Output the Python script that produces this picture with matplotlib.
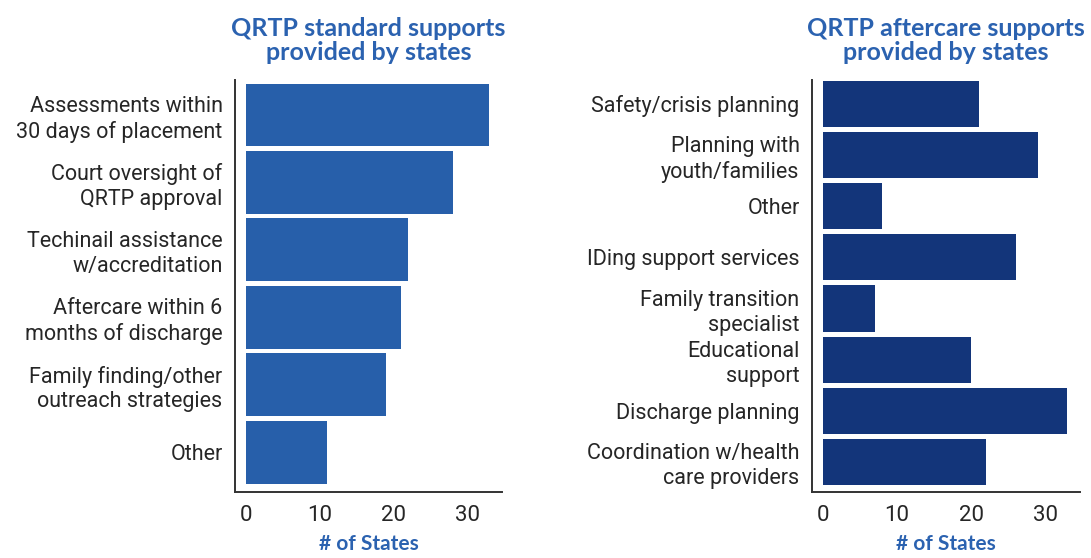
import matplotlib
matplotlib.use("Agg")
import matplotlib.pyplot as plt

left_title = "QRTP standard supports\nprovided by states"
left_labels = ["Assessments within\n30 days of placement", "Court oversight of\nQRTP approval",
               "Techinail assistance\nw/accreditation", "Aftercare within 6\nmonths of discharge",
               "Family finding/other\noutreach strategies", "Other"]
left_values = [33, 28, 22, 21, 19, 11]

right_title = "QRTP aftercare supports\nprovided by states"
right_labels = ["Safety/crisis planning", "Planning with\nyouth/families", "Other",
                "IDing support services", "Family transition\nspecialist", "Educational\nsupport",
                "Discharge planning", "Coordination w/health\ncare providers"]
right_values = [21, 29, 8, 26, 7, 20, 33, 22]

xticks = [0, 10, 20, 30]
xlabel = "# of States"

label_font = ['Roboto', 'DejaVu Sans']
title_font = ['Lato', 'DejaVu Sans']
title_color = "#2B62B0"

fig = plt.figure(figsize=(10.91, 5.58), dpi=100)

def draw(rect, labels, values, color, title, height, ylim):
    ax = fig.add_axes(rect)
    ys = list(range(len(labels)))
    ax.barh(ys, values, height=height, color=color)
    ax.set_yticks(ys)
    ax.set_yticklabels(labels, fontsize=15.5, family=label_font, fontweight='normal',
                       color="#262626", linespacing=1.22)
    ax.set_xticks(xticks)
    ax.set_xticklabels([str(t) for t in xticks], fontsize=16, family=label_font,
                       fontweight='normal', color="#262626")
    ax.set_xlim(-1.5, 34.7)
    ax.set_ylim(*ylim)
    ax.tick_params(length=0, axis='y', pad=9)
    ax.tick_params(length=0, axis='x', pad=9)
    for s in ["top", "right"]:
        ax.spines[s].set_visible(False)
    for s in ["left", "bottom"]:
        ax.spines[s].set_color("#333333")
        ax.spines[s].set_linewidth(1.4)
    ax.set_xlabel(xlabel, fontsize=15, family=title_font, fontweight='bold', color=title_color,
                  labelpad=6)
    ax.set_title(title, fontsize=18, family=title_font, fontweight='bold', color=title_color,
                 pad=14, linespacing=1.05)
    return ax

draw([0.2154, 0.118, 0.2447, 0.739], left_labels, left_values, "#275FAA", left_title, 0.93,
     (5.59, -0.52))
draw([0.7443, 0.118, 0.2456, 0.739], right_labels, right_values, "#13357A", right_title, 0.9,
     (7.59, -0.47))

fig.savefig("out.png", dpi=100)
